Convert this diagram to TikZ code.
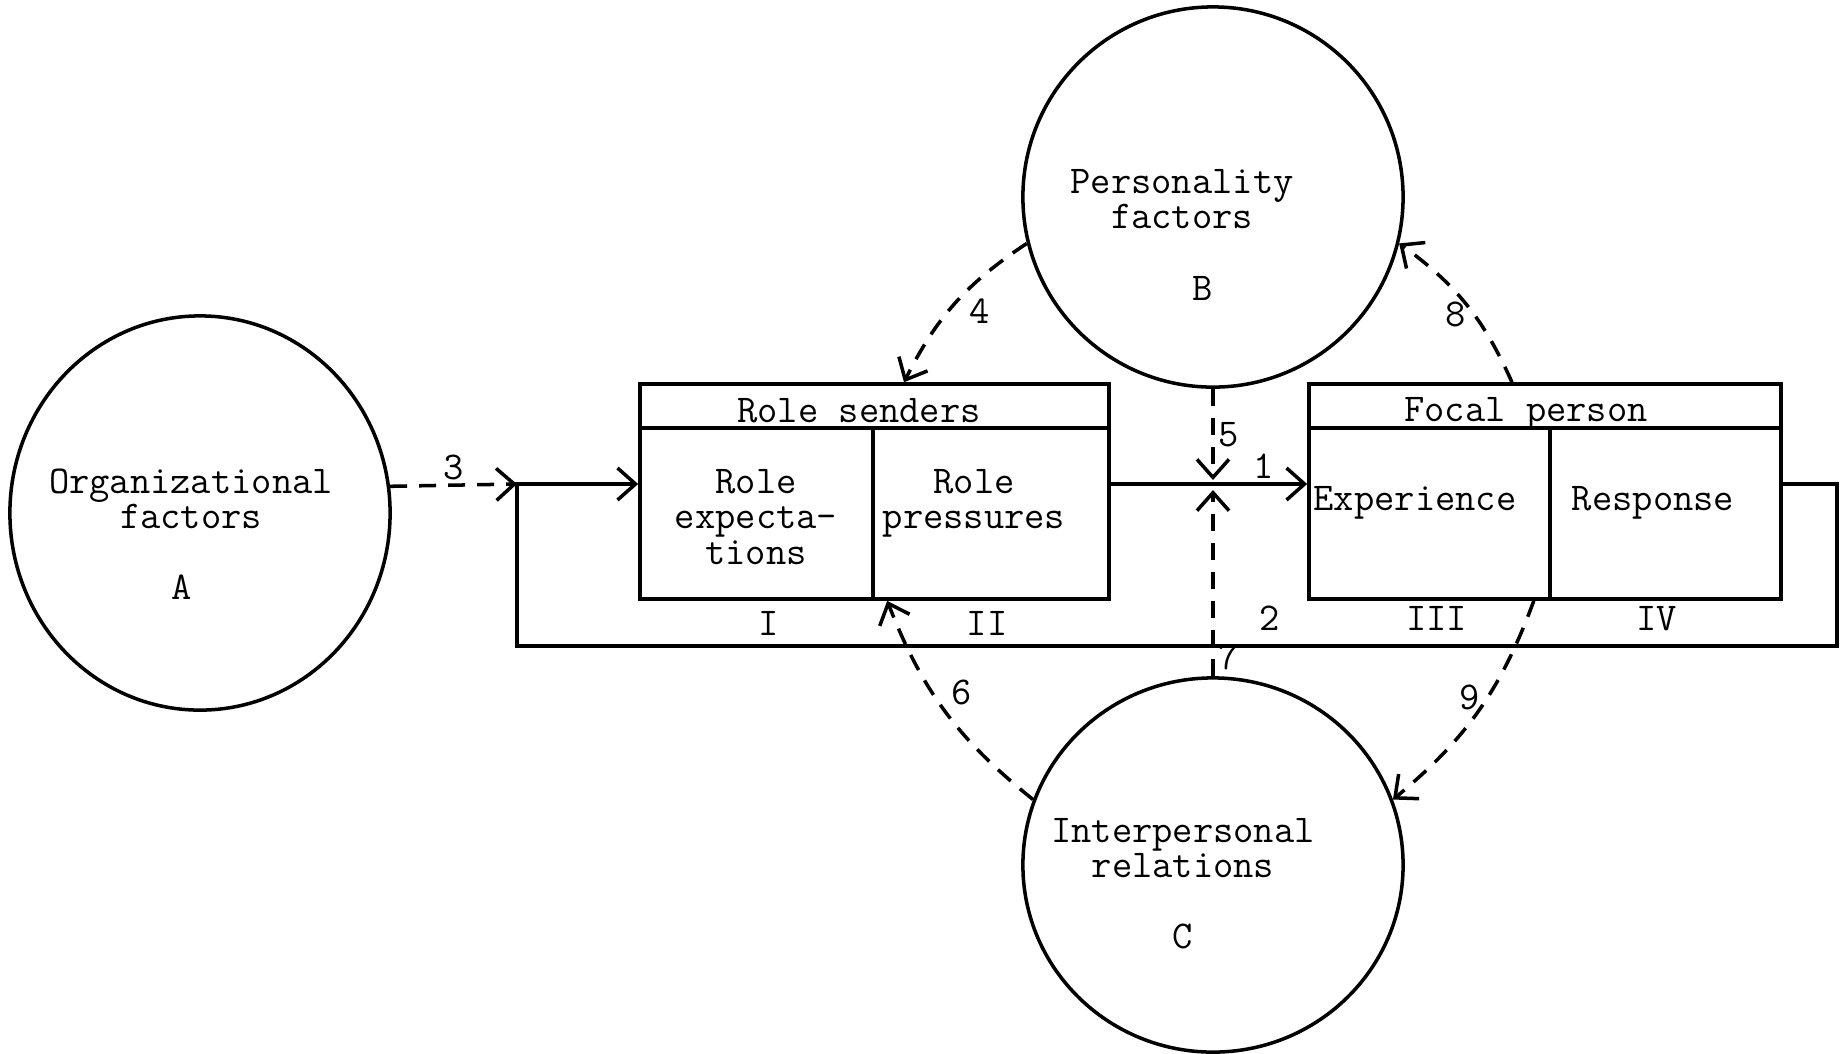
\documentclass[tikz,border=0pt]{standalone}
\usetikzlibrary{shapes.geometric, arrows.meta, calc, positioning}

\begin{document}
\begin{tikzpicture}[x=0.01cm, y=-0.01cm,
  factornode/.style={ellipse, draw, line width=1pt, minimum width=3.8cm, minimum height=3.8cm, inner sep=0pt},
  cellnode/.style={rectangle, draw, line width=1pt, inner sep=0pt, minimum height=1.71cm},
  headnode/.style={rectangle, draw, line width=1pt, inner sep=0pt, minimum height=0.44cm},
  txt/.style={font=\ttfamily\fontsize{11.2}{10}\selectfont, align=center, inner sep=1pt},
  romanlbl/.style={txt, label distance=0.6mm},
  flow/.style={line width=1pt, ->},
  infl/.style={line width=1pt, ->, dash pattern=on 1.7mm off 1.2mm},
  >={Straight Barb[length=1.8mm, width=3.2mm]}]

\useasboundingbox (0,0) rectangle (1841,1053);

% the three factors
\node[factornode, minimum height=3.94cm] at (200, 513) (orgA) {};
\node[txt] at (191, 499) {Organizational\\factors};
\node[txt] at (182, 587) {A};
\node[factornode] at (1213, 197) (persB) {};
\node[txt] at (1182, 199) {Personality\\factors};
\node[txt] at (1203, 288) {B};
\node[factornode, minimum height=3.74cm] at (1213, 865) (interC) {};
\node[txt] at (1183, 848) {Interpersonal\\relations};
\node[txt] at (1183, 936) {C};

% role senders
\node[headnode, minimum width=4.69cm] at (874.5, 406) (rsHead) {};
\node[txt] at (859, 411) {Role senders};
\node[cellnode, minimum width=2.33cm, label={[romanlbl, xshift=0.12cm]below:I}] at (756.5, 513.5) (rsExp) {};
\node[txt] at (756, 517) {Role\\expecta-\\tions};
\node[cellnode, minimum width=2.36cm, label={[romanlbl, xshift=-0.04cm]below:II}] at (991, 513.5) (rsPres) {};
\node[txt] at (974, 503) {Role\\pressures};

% focal person
\node[headnode, minimum width=4.72cm] at (1545, 406) (fpHead) {};
\node[txt] at (1526, 414) {Focal person};
\node[cellnode, minimum width=2.41cm, label={[romanlbl, label distance=0.1mm, xshift=0.07cm]below:III}] at (1429.5, 513.5) (fpExp) {};
\node[txt] at (1415, 503) {Experience};
\node[cellnode, minimum width=2.31cm, label={[romanlbl, label distance=0.1mm, xshift=-0.09cm]below:IV}] at (1665.5, 513.5) (fpResp) {};
\node[txt] at (1653, 503) {Response};

\coordinate (fbIn) at (517, 484);
\coordinate (fbL) at (517, 646);
\coordinate (fbR) at (1837, 646);
\coordinate (j5) at (1213, 480);
\coordinate (j7) at (1213, 490);

% main flow and feedback
\draw[flow] ([yshift=0.295cm]rsPres.east) -- ([yshift=0.295cm]fpExp.west) node[txt, pos=0.78, above] {1};
\draw[flow] ([yshift=0.295cm]fpResp.east) -| (fbR) -- (fbL) node[txt, pos=0.43, above=1mm] {2} |- ([yshift=0.295cm]rsExp.west);
\draw[infl] (orgA.8) -- (fbIn) node[txt, midway, above] {3};

% influences
\draw[infl] (persB.194) to[bend right=15] node[txt, pos=0.56, right=1.6mm] {4} ([xshift=0.295cm]rsHead.north);
\draw[infl] (persB.south) -- (j5) node[txt, midway, right] {5};
\draw[infl] (interC.160) to[bend left=15] node[txt, pos=0.6, right=1.4mm] {6} ([xshift=0.16cm]rsPres.south west);
\draw[infl] (interC.north) -- (j7) node[txt, pos=0.1, right] {7};
\draw[infl] ([xshift=-0.33cm]fpHead.north) to[bend right=15] node[txt, pos=0.42, left=0.3mm] {8} (persB.-14);
\draw[infl] ([xshift=-0.18cm]fpExp.south east) to[bend left=15] node[txt, pos=0.43, left=0.2mm] {9} (interC.20);
\end{tikzpicture}
\end{document}
